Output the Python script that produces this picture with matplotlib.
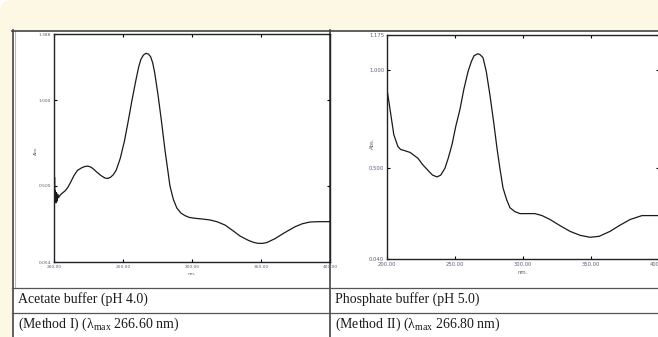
import matplotlib
matplotlib.use("Agg")
import matplotlib.pyplot as plt
from matplotlib.patches import FancyBboxPatch, Rectangle

plt.rcParams["mathtext.fontset"] = "custom"
plt.rcParams["mathtext.rm"] = "Liberation Serif"
plt.rcParams["mathtext.it"] = "Liberation Serif:italic"

# Method I, acetate buffer pH 4.0 (wavelength nm, absorbance)
wl_acetate = [200.0, 200.2, 200.4, 200.7, 201.0, 201.4, 201.8, 202.2, 202.7, 203.2, 204.0,
              205.0, 206.5, 208.0, 210.0, 212.0, 214.5, 217.0, 220.0, 222.5, 224.6, 227.0,
              229.0, 231.0, 234.0, 237.0, 239.0, 241.0, 243.0, 245.0, 248.0, 251.0, 253.6,
              256.5, 259.4, 261.5, 263.0, 264.8, 266.6, 268.5, 270.0, 271.5, 273.0, 275.4,
              278.0, 280.4, 282.3, 284.0, 286.5, 289.0, 292.0, 295.0, 298.0, 302.0, 308.0,
              313.0, 318.0, 324.0, 330.0, 335.0, 341.0, 345.0, 348.0, 351.0, 354.0, 360.0,
              367.0, 374.6, 380.0, 385.5, 392.0, 400.0]
abs_acetate = [0.85, 0.38, 0.55, 0.42, 0.47, 0.40, 0.46, 0.41, 0.45, 0.43, 0.44,
               0.45, 0.46, 0.47, 0.49, 0.52, 0.56, 0.59, 0.605, 0.613, 0.615, 0.608,
               0.595, 0.58, 0.56, 0.545, 0.543, 0.55, 0.565, 0.59, 0.66, 0.76, 0.87,
               1.00, 1.12, 1.20, 1.24, 1.265, 1.275, 1.27, 1.255, 1.22, 1.16, 1.03,
               0.87, 0.71, 0.60, 0.50, 0.42, 0.37, 0.34, 0.325, 0.315, 0.31, 0.305,
               0.30, 0.29, 0.27, 0.235, 0.205, 0.18, 0.168, 0.163, 0.163, 0.167, 0.19,
               0.225, 0.26, 0.278, 0.288, 0.29, 0.29]

# Method II, phosphate buffer pH 5.0
wl_phosphate = [200.0, 202.2, 205.0, 208.0, 210.0, 212.5, 217.0, 222.8, 226.0, 230.0,
                233.5, 236.8, 239.5, 242.6, 245.0, 247.8, 250.5, 253.7, 256.5, 259.6,
                262.0, 264.0, 266.8, 268.5, 270.6, 273.0, 275.7, 278.5, 280.9, 283.0,
                285.3, 288.0, 290.4, 294.0, 297.8, 303.0, 308.8, 314.0, 319.9, 327.0,
                334.6, 342.0, 349.3, 356.0, 364.0, 371.0, 378.7, 387.5, 393.0, 400.0]
abs_phosphate = [0.90, 0.80, 0.67, 0.61, 0.595, 0.59, 0.58, 0.55, 0.52, 0.49,
                 0.465, 0.456, 0.465, 0.50, 0.55, 0.62, 0.71, 0.80, 0.90, 0.99,
                 1.04, 1.07, 1.08, 1.075, 1.06, 0.99, 0.87, 0.73, 0.60, 0.50,
                 0.40, 0.34, 0.30, 0.28, 0.27, 0.27, 0.27, 0.26, 0.24, 0.21,
                 0.18, 0.16, 0.15, 0.155, 0.18, 0.21, 0.24, 0.26, 0.26, 0.26]

xticks = [200, 250, 300, 350, 400]
yticks_acetate = [0.054, 0.500, 1.000, 1.388]
yticks_phosphate = [0.040, 0.500, 1.000, 1.175]

captions = [
    ("Acetate buffer (pH 4.0)", r"(Method I) (λ$_{\mathrm{max}}$ 266.60 nm)"),
    ("Phosphate buffer (pH 5.0)", r"(Method II) (λ$_{\mathrm{max}}$ 266.80 nm)"),
]

W, H = 658, 337
fig = plt.figure(figsize=(W / 100, H / 100), dpi=100, facecolor="white")

# page background + table drawn in pixel coordinates
bg = fig.add_axes([0, 0, 1, 1], zorder=0)
bg.set_xlim(0, W)
bg.set_ylim(H, 0)
bg.axis("off")
bg.add_patch(FancyBboxPatch((0, 0), W + 20, H + 20, boxstyle="round,pad=0,rounding_size=12",
                            fc="#fdf8e4", ec="none"))
bg.add_patch(Rectangle((12, 30), W, H, fc="white", ec="none"))
line_kw = dict(color="#444444", lw=1.2)
bg.plot([12.5, 12.5], [30, H], **line_kw)
bg.plot([14.5, 14.5], [31, 287], color="#bbbbbb", lw=0.8)
bg.plot([12, W], [30.5, 30.5], **line_kw)
bg.plot([329.5, 329.5], [30, H], **line_kw)
bg.plot([12, W], [287.5, 287.5], color="#555555", lw=0.9)
bg.plot([12, W], [312.5, 312.5], color="#555555", lw=0.9)

for (top, bottom), x0 in zip(captions, [18, 335]):
    bg.text(x0, 299, top, family="Liberation Serif", fontsize=10, color="#1a1a1a",
            va="center", ha="left")
    bg.text(x0, 324, bottom, family="Liberation Serif", fontsize=10, color="#1a1a1a",
            va="center", ha="left")


def spectrum(rect, wl, ab, yticks, label_xy, nm_xy, fs):
    ax = fig.add_axes(rect, zorder=2)
    ax.patch.set_alpha(0)
    ax.plot(wl, ab, color="#1a1a1a", lw=0.9)
    ax.set_xlim(200, 400)
    ax.set_ylim(yticks[0], yticks[-1])
    ax.set_xticks(xticks)
    ax.set_xticklabels([f"{t:.2f}" for t in xticks])
    ax.set_yticks(yticks)
    ax.set_yticklabels([f"{t:.3f}" for t in yticks])
    ax.tick_params(direction="in", length=2.5, width=0.8, labelsize=fs,
                   labelcolor="#5a6075", pad=2, top=True, right=True)
    for s in ax.spines.values():
        s.set_color("#222222")
        s.set_linewidth(1.0)
    bg.text(*label_xy, "Abs.", rotation=90, fontsize=fs, color="#5a6075",
            ha="center", va="center")
    bg.text(*nm_xy, "nm.", fontsize=fs, color="#5a6075", ha="center", va="center")
    return ax


spectrum([54 / W, 1 - 262 / H, 276 / W, 228 / H], wl_acetate, abs_acetate,
         yticks_acetate, (36, 150), (192, 274), 3.2)
spectrum([387 / W, 1 - 259 / H, 272 / W, 224 / H], wl_phosphate, abs_phosphate,
         yticks_phosphate, (372, 143), (523, 272), 3.8)

fig.savefig("out.png", dpi=100, facecolor=fig.get_facecolor())
